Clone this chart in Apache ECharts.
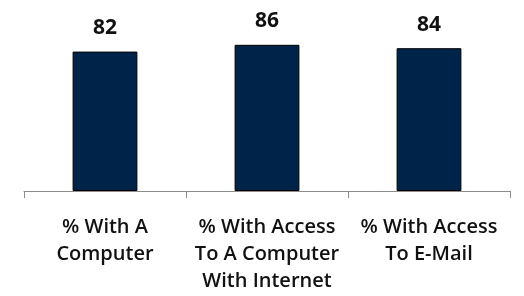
<!DOCTYPE html>
<html lang="en">
<head>
    <meta charset="UTF-8">
    <title>Computer access</title>
    <style>
        html,body{margin:0;padding:0;background:#fff;}
        #chart{width:524px;height:296px;}
    </style>
</head>
<body>
    <script src="https://cdn.jsdelivr.net/npm/echarts@6/dist/echarts.min.js"></script>
    <div id="chart"></div>
    <script>
        let categories=['% With A\nComputer','% With Access\nTo A Computer\nWith Internet','% With Access\nTo E-Mail'];
        let values=[82,86,84];

        let myChart=echarts.init(document.getElementById('chart'));
        let option={
            animation:false,
            grid:{left:24,right:14,top:21,bottom:105},
            xAxis:{
                type:'category',
                data:categories,
                axisLine:{lineStyle:{color:'#8c8c8c',width:1}},
                axisTick:{show:true,length:7,lineStyle:{color:'#8c8c8c'}},
                axisLabel:{
                    color:'#111',
                    fontFamily:'Open Sans',
                    fontWeight:600,
                    fontSize:20,
                    lineHeight:27,
                    margin:23,
                    interval:0
                }
            },
            yAxis:{
                type:'value',
                min:0,
                max:100,
                show:false,
                splitLine:{show:false}
            },
            series:[{
                type:'bar',
                data:values,
                barWidth:'40%',
                itemStyle:{color:'#002449',borderColor:'#000',borderWidth:1},
                label:{
                    show:true,
                    position:'top',
                    distance:13,
                    color:'#111',
                    fontFamily:'Open Sans',
                    fontWeight:'bold',
                    fontSize:21
                }
            }]
        };
        myChart.setOption(option);
    </script>
</body>
</html>
